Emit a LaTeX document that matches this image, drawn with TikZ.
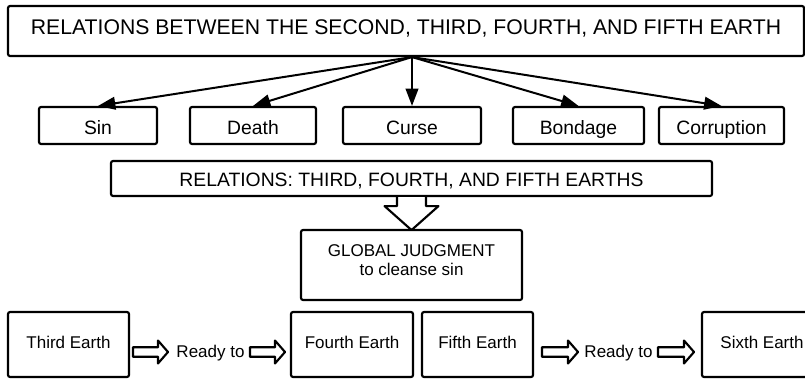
\documentclass[tikz,border=0pt]{standalone}
\usepackage{fontspec}
\setmainfont{Liberation Sans}
\usetikzlibrary{arrows.meta,calc}

% Hollow horizontal block arrow from #1 to #2 (same height)
\newcommand\hollowarrow[2]{%
  \draw[hollow] let \p1=(#1), \p2=(#2) in
    (\x1,\y1+3.6pt) -- (\x2-7.5pt,\y1+3.6pt) -- (\x2-7.5pt,\y1+8.6pt) --
    (\x2,\y1) -- (\x2-7.5pt,\y1-8.6pt) -- (\x2-7.5pt,\y1-3.6pt) --
    (\x1,\y1-3.6pt) -- cycle;}

\begin{document}
\begin{tikzpicture}[x=0.75pt,y=-0.75pt,
  box/.style={draw=black, line width=1.6pt, rounded corners=1.5pt,
              inner sep=0pt, fill=white},
  titlefont/.style={font=\fontsize{15.9pt}{18pt}\selectfont},
  midfont/.style={font=\fontsize{14.5pt}{17pt}\selectfont},
  lowfont/.style={font=\fontsize{12.75pt}{14.5pt}\selectfont},
  titlebox/.style={box, titlefont, text height=8pt, text depth=2pt},
  termbox/.style={box, midfont, minimum height=27.75pt,
                  text height=12.75pt, text depth=0pt},
  earthbox/.style={box, lowfont, minimum height=48.75pt,
                   text height=7pt, text depth=1.75pt},
  link/.style={line width=1.5pt, -{Triangle[length=13pt,width=9.5pt]}},
  hollow/.style={draw=black, fill=white, line width=1.6pt, line join=round},
]
\clip (0,0) rectangle (805,378);
\fill[white] (0,0) rectangle (805,378);

% heading
\node[titlebox, minimum width=597pt, minimum height=37.5pt] (top) at (406,31)
  {RELATIONS BETWEEN THE SECOND, THIRD, FOURTH, AND FIFTH EARTH};

% the five terms
\node[termbox, minimum width=88.5pt]  (sin)     at (98,125.5)    {Sin};
\node[termbox, minimum width=94.5pt]  (death)   at (253,125.5)   {Death};
\node[termbox, minimum width=103.5pt] (curse)   at (412,125.5)   {Curse};
\node[termbox, minimum width=98.25pt] (bondage) at (578.5,125.5) {Bondage};
\node[termbox, minimum width=93.75pt] (corrupt) at (721.5,125.5) {Corruption};

\coordinate (hub) at (curse.north |- top.south);
\foreach \t in {sin,death,curse,bondage,corrupt}
  \draw[link] (hub) -- (\t.north);

% second relation bar
\node[box, midfont, minimum width=450.75pt, minimum height=26.25pt,
      text height=12.3pt, text depth=0pt] (rel) at (411.5,178.5)
  {RELATIONS: THIRD, FOURTH, AND FIFTH EARTHS};

% judgment box
\node[box, minimum width=165.75pt, minimum height=52.5pt] (judge) at (411.5,265) {};
\node[lowfont, align=center, anchor=north, inner sep=0pt] (judgetext) at (411.5,244)
  {GLOBAL JUDGMENT\\to cleanse sin};

% hollow arrow from the bar down to the judgment box
\draw[hollow, shift={(rel.south)}]
  (-14.5,0) -- (-14.5,9) -- (-27,9) -- (0,33) -- (27,9) -- (14.5,9) -- (14.5,0);

% bottom row
\node[earthbox, minimum width=90.75pt] (third)  at (68.5,344.5) {Third Earth};
\node[earthbox, minimum width=91.5pt]  (fourth) at (352,344.5)  {Fourth Earth};
\node[earthbox, minimum width=83.25pt] (fifth)  at (477.5,344.5) {Fifth Earth};
\node[earthbox, minimum width=90pt]    (sixth)  at (762,344.5)  {Sixth Earth};

\node[lowfont, anchor=base, inner sep=0pt] (ready1) at (210.5,357) {Ready to};
\node[lowfont, anchor=base, inner sep=0pt] (ready2) at (618.5,357) {Ready to};

\coordinate (a1s) at (133,352); \coordinate (a1e) at (168,352);
\coordinate (a2s) at (250,352); \coordinate (a2e) at (285,352);
\coordinate (a3s) at (542,352); \coordinate (a3e) at (578,352);
\coordinate (a4s) at (658,352); \coordinate (a4e) at (694,352);
\hollowarrow{a1s}{a1e}
\hollowarrow{a2s}{a2e}
\hollowarrow{a3s}{a3e}
\hollowarrow{a4s}{a4e}
\end{tikzpicture}
\end{document}
